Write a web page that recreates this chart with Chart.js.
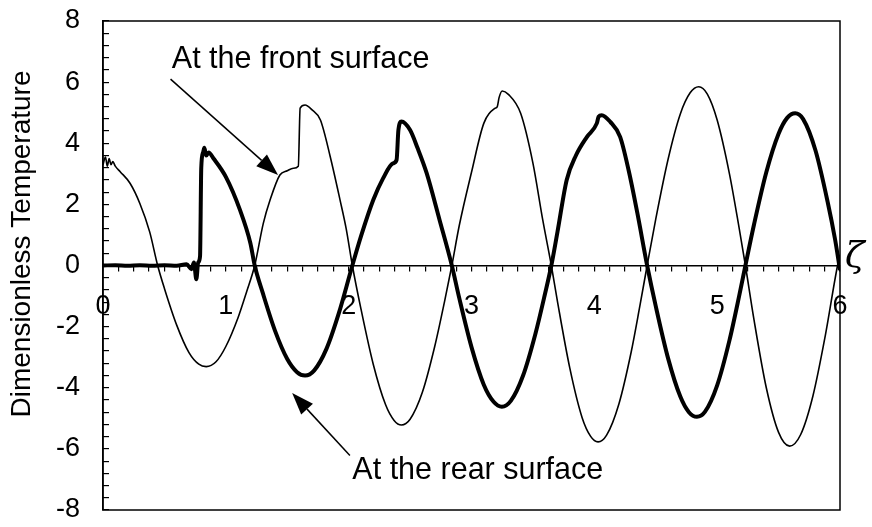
<!DOCTYPE html>
<html>
<head>
<meta charset="utf-8">
<script src="https://cdn.jsdelivr.net/npm/chart.js@4.4.1/dist/chart.umd.min.js"></script>
<style>
  html, body { margin: 0; padding: 0; background: #fff; }
  #wrap { width: 872px; height: 527px; position: relative; }
</style>
</head>
<body>
<div id="wrap"><canvas id="tempChart"></canvas></div>
<script>
// Temperature at the front surface (thin line)
const frontX = [0, 0.02, 0.035, 0.05, 0.065, 0.08, 0.1, 0.14, 0.22, 0.3, 0.38, 0.445, 0.5, 0.6, 0.7, 0.78, 0.84, 0.92, 1.0, 1.1, 1.17, 1.235,
  1.305, 1.36, 1.44, 1.5, 1.55, 1.59, 1.605, 1.645, 1.7, 1.77, 1.85, 1.93, 1.98, 2.03,
  2.1, 2.2, 2.3, 2.37, 2.43, 2.5, 2.6, 2.7, 2.78, 2.84,
  2.9, 3.0, 3.1, 3.19, 3.21, 3.225, 3.25, 3.3, 3.4, 3.5, 3.58, 3.65,
  3.7, 3.8, 3.9, 3.97, 4.03, 4.1, 4.2, 4.3, 4.37, 4.43,
  4.5, 4.6, 4.7, 4.78, 4.85, 4.92, 5.0, 5.1, 5.18, 5.23,
  5.3, 5.4, 5.5, 5.59, 5.68, 5.78, 5.88, 5.98, 6.0];
const frontY = [3.3, 3.55, 3.25, 3.5, 3.3, 3.4, 3.25, 3.07, 2.69, 2.03, 1.1, 0, -0.75, -1.95, -2.85, -3.23, -3.31, -3.15, -2.65, -1.7, -0.85, 0,
  1.38, 2.14, 2.96, 3.1, 3.18, 3.25, 5.15, 5.25, 5.1, 4.76, 3.56, 2.14, 1.2, 0,
  -1.42, -3.23, -4.55, -5.07, -5.22, -5.03, -4.15, -2.66, -1.19, 0,
  1.3, 3.05, 4.65, 5.14, 5.2, 5.5, 5.71, 5.6, 4.98, 3.35, 1.49, 0,
  -1.18, -3.35, -4.97, -5.59, -5.77, -5.55, -4.53, -2.83, -1.34, 0,
  1.52, 3.47, 4.96, 5.65, 5.85, 5.61, 4.76, 3.0, 1.2, 0,
  -1.78, -4.0, -5.46, -5.91, -5.53, -4.26, -2.3, 0, 0.35];

// Temperature at the rear surface (thick line)
const rearX = [0, 0.1, 0.2, 0.3, 0.4, 0.5, 0.6, 0.68, 0.72, 0.74, 0.76, 0.775, 0.79, 0.8, 0.815, 0.825, 0.84, 0.86, 0.9, 1.0, 1.115, 1.2, 1.235,
  1.3, 1.4, 1.5, 1.58, 1.645, 1.72, 1.82, 1.92, 2.03,
  2.1, 2.2, 2.28, 2.36, 2.39, 2.405, 2.43, 2.5, 2.56, 2.635, 2.74, 2.84,
  2.9, 3.0, 3.1, 3.18, 3.247, 3.32, 3.42, 3.52, 3.6, 3.65,
  3.7, 3.775, 3.85, 3.94, 4.02, 4.035, 4.06, 4.13, 4.21, 4.28, 4.35, 4.43,
  4.5, 4.6, 4.7, 4.77, 4.835, 4.9, 5.0, 5.1, 5.18, 5.23,
  5.3, 5.4, 5.5, 5.57, 5.635, 5.7, 5.8, 5.9, 5.96, 6.0];
const rearY = [0, 0.01, -0.01, 0.01, -0.01, 0.01, -0.01, 0.04, -0.12, 0.1, -0.45, 0.1, 0.3, 3.2, 3.7, 3.85, 3.6, 3.7, 3.5, 2.9, 1.82, 0.73, 0,
  -0.89, -2.13, -3.06, -3.49, -3.6, -3.43, -2.72, -1.56, 0,
  0.95, 2.14, 2.85, 3.34, 3.45, 4.43, 4.71, 4.43, 3.85, 3.02, 1.49, 0,
  -1.06, -2.67, -3.9, -4.46, -4.62, -4.43, -3.6, -2.24, -0.9, 0,
  1.1, 2.8, 3.6, 4.21, 4.65, 4.87, 4.92, 4.7, 4.21, 3.1, 1.72, 0,
  -1.33, -3.03, -4.29, -4.8, -4.95, -4.79, -3.92, -2.45, -0.98, 0,
  1.34, 3.05, 4.31, 4.83, 4.98, 4.79, 3.77, 2.07, 0.85, -0.15];

// Axis ranges and labelled ticks
const xRange = [0, 6];
const yRange = [-8, 8];
const xLabels = [0, 1, 2, 3, 4, 5, 6];
const yLabels = [-8, -6, -4, -2, 0, 2, 4, 6, 8];

const FONT = '"Liberation Sans", Arial, sans-serif';

const toPoints = (xs, ys) => xs.map((x, i) => ({ x: x, y: ys[i] }));
const isLabel = (list, v) => list.some(l => Math.abs(l - v) < 1e-6);

// arrow with a filled head, drawn from (x1,y1) to the tip (x2,y2)
function drawArrow(ctx, x1, y1, x2, y2, len, half) {
    const a = Math.atan2(y2 - y1, x2 - x1);
    const bx = x2 - len * Math.cos(a), by = y2 - len * Math.sin(a);
    ctx.beginPath();
    ctx.moveTo(x1, y1);
    ctx.lineTo(bx, by);
    ctx.lineWidth = 1.5;
    ctx.stroke();
    ctx.beginPath();
    ctx.moveTo(x2, y2);
    ctx.lineTo(bx + half * Math.sin(a), by - half * Math.cos(a));
    ctx.lineTo(bx - half * Math.sin(a), by + half * Math.cos(a));
    ctx.closePath();
    ctx.fill();
}

// no extra room for half-labels at the ends of either axis
function trimPadding(s) {
    s.paddingTop = 0;
    s.paddingBottom = 0;
    s.paddingLeft = 0;
    s.paddingRight = 0;
}

const decorations = {
    id: 'decorations',
    afterDraw(chart) {
        const { ctx, chartArea: ca, scales: { x, y } } = chart;
        ctx.save();
        ctx.strokeStyle = '#000';
        ctx.fillStyle = '#000';

        // plot frame
        ctx.lineWidth = 1.5;
        ctx.strokeRect(ca.left, ca.top, ca.right - ca.left, ca.bottom - ca.top);

        // curve labels with arrows
        ctx.font = '30.5px ' + FONT;
        ctx.textBaseline = 'alphabetic';
        ctx.textAlign = 'left';
        ctx.fillText('At the front surface', x.getPixelForValue(0.56), y.getPixelForValue(6.45));
        drawArrow(ctx, x.getPixelForValue(0.55), y.getPixelForValue(6.1),
                  x.getPixelForValue(1.425), y.getPixelForValue(2.96), 22, 8);
        ctx.fillText('At the rear surface', x.getPixelForValue(2.03), y.getPixelForValue(-7.0));
        drawArrow(ctx, x.getPixelForValue(2.01), y.getPixelForValue(-6.22),
                  x.getPixelForValue(1.54), y.getPixelForValue(-4.17), 22, 8);

        // axis variable at the end of the time axis
        ctx.font = 'italic 36px "DejaVu Serif", serif';
        ctx.textAlign = 'left';
        ctx.textBaseline = 'middle';
        ctx.fillText('ζ', ca.right + 5, y.getPixelForValue(0) - 8);

        // y axis title
        ctx.translate(22, 244);
        ctx.rotate(-Math.PI / 2);
        ctx.font = '28px ' + FONT;
        ctx.textAlign = 'center';
        ctx.textBaseline = 'middle';
        ctx.fillText('Dimensionless Temperature', 0, 0);
        ctx.restore();
    }
};

new Chart(document.getElementById('tempChart'), {
    type: 'line',
    data: {
        datasets: [
            {
                label: 'At the front surface',
                data: toPoints(frontX, frontY),
                borderColor: '#000',
                borderWidth: 1.6,
                pointRadius: 0,
                cubicInterpolationMode: 'monotone'
            },
            {
                label: 'At the rear surface',
                data: toPoints(rearX, rearY),
                borderColor: '#000',
                borderWidth: 4,
                pointRadius: 0,
                cubicInterpolationMode: 'monotone'
            }
        ]
    },
    options: {
        responsive: true,
        maintainAspectRatio: false,
        animation: false,
        layout: { padding: { left: 0, top: 21, right: 32, bottom: 17 } },
        plugins: { legend: { display: false }, tooltip: { enabled: false } },
        scales: {
            x: {
                type: 'linear',
                min: xRange[0],
                max: xRange[1],
                position: { y: 0 },
                afterFit: trimPadding,
                grid: { drawOnChartArea: false, drawTicks: true, tickLength: 5, color: '#000', lineWidth: 1.2 },
                border: { display: true, color: '#000', width: 1.5 },
                ticks: {
                    stepSize: 0.125,
                    autoSkip: false,
                    maxRotation: 0,
                    padding: 20,
                    color: '#000',
                    font: { family: FONT, size: 27 },
                    callback: v => isLabel(xLabels, v) ? String(Math.round(v)) : ''
                }
            },
            y: {
                type: 'linear',
                min: yRange[0],
                max: yRange[1],
                position: 'left',
                afterFit: s => { trimPadding(s); s.width = 103; },
                grid: { drawOnChartArea: false, drawTicks: true, tickLength: -6, color: '#000', lineWidth: 1.2 },
                border: { display: true, color: '#000', width: 1.5 },
                ticks: {
                    stepSize: 0.4,
                    autoSkip: false,
                    padding: 29,
                    color: '#000',
                    font: { family: FONT, size: 27 },
                    callback: v => isLabel(yLabels, v) ? String(Math.round(v)) : ''
                }
            }
        }
    },
    plugins: [decorations]
});
</script>
</body>
</html>
